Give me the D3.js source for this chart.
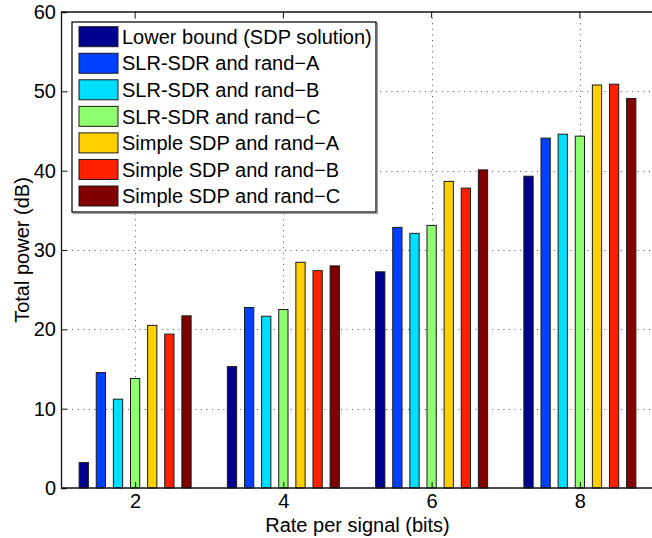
<!DOCTYPE html>
<html>
<head>
<meta charset="utf-8">
<script src="https://cdn.jsdelivr.net/npm/d3@7"></script>
<style>
  html, body { margin: 0; padding: 0; background: #fff; }
  svg { display: block; font-family: "Liberation Sans", Arial, Helvetica, sans-serif; }
</style>
</head>
<body>
<svg id="chart" width="652" height="538"></svg>
<script>
// Rates on the x axis
const rates = [2, 4, 6, 8];
const xTicks = [2, 4, 6, 8];
const yTicks = [0, 10, 20, 30, 40, 50, 60];

// Series names (legend order)
const seriesNames = [
  "Lower bound (SDP solution)",
  "SLR-SDR and rand\u2212A",
  "SLR-SDR and rand\u2212B",
  "SLR-SDR and rand\u2212C",
  "Simple SDP and rand\u2212A",
  "Simple SDP and rand\u2212B",
  "Simple SDP and rand\u2212C"
];

// Total power (dB) per rate, one array per series
const lowerBound = [3.2, 15.3, 27.25, 39.3];
const slrA       = [14.55, 22.75, 32.85, 44.1];
const slrB       = [11.2, 21.65, 32.1, 44.6];
const slrC       = [13.8, 22.5, 33.1, 44.35];
const simpleA    = [20.5, 28.45, 38.65, 50.8];
const simpleB    = [19.4, 27.4, 37.8, 50.9];
const simpleC    = [21.7, 28.0, 40.1, 49.1];

const seriesColors = ["#00008f", "#0040ff", "#00dfff", "#8fff70", "#ffcf00", "#ff2000", "#800000"];

const series = [lowerBound, slrA, slrB, slrC, simpleA, simpleB, simpleC].map((vals, i) => ({
  name: seriesNames[i], color: seriesColors[i], values: vals
}));

const svg = d3.select("#chart");
const plotL = 61, plotR = 654, plotT = 12, plotB = 488;

const x = d3.scaleLinear().domain([1, 9]).range([plotL, plotR]);
const y = d3.scaleLinear().domain([0, 60]).range([plotB, plotT]);

// Dotted grid
const grid = svg.append("g").attr("stroke", "#555").attr("stroke-width", 1)
  .attr("stroke-dasharray", "1,4.6");
grid.selectAll("line.gy").data(yTicks.slice(1, -1)).join("line")
  .attr("x1", plotL).attr("x2", plotR)
  .attr("y1", d => Math.round(y(d)) + 0.5).attr("y2", d => Math.round(y(d)) + 0.5);
grid.selectAll("line.gx").data(xTicks).join("line")
  .attr("y1", plotT).attr("y2", plotB)
  .attr("x1", d => Math.round(x(d)) + 0.5).attr("x2", d => Math.round(x(d)) + 0.5);

// Grouped bars
const slot = 0.231;      // spacing between bars in a group (x units)
const barW = 0.125;      // bar width (x units)
const bw = x(barW) - x(0);
series.forEach((s, i) => {
  const off = (i - (series.length - 1) / 2) * slot;
  svg.append("g").selectAll("rect").data(s.values).join("rect")
    .attr("x", (d, j) => x(rates[j] + off) - bw / 2)
    .attr("y", d => y(d))
    .attr("width", bw)
    .attr("height", d => y(0) - y(d))
    .attr("fill", s.color)
    .attr("stroke", "#1a1a1a")
    .attr("stroke-width", 1);
});

// Axes box and ticks
const axisColor = "#111";
svg.append("line").attr("x1", plotL).attr("x2", plotR).attr("y1", plotT).attr("y2", plotT)
  .attr("stroke", axisColor).attr("stroke-width", 1.3);
svg.append("line").attr("x1", plotL).attr("x2", plotR).attr("y1", plotB).attr("y2", plotB)
  .attr("stroke", axisColor).attr("stroke-width", 1.3);

const yAxis = d3.axisLeft(y).tickValues(yTicks).tickSize(-6).tickPadding(5).tickFormat(d3.format("d"));
const gy = svg.append("g").attr("transform", `translate(${plotL},0)`).call(yAxis);
gy.select(".domain").attr("stroke", axisColor).attr("stroke-width", 1.3);
gy.selectAll(".tick line").attr("stroke", axisColor);
gy.selectAll("text").attr("font-size", 20).attr("fill", "#000")
  .attr("font-family", "Liberation Sans, Arial, sans-serif");

const xAxis = d3.axisBottom(x).tickValues(xTicks).tickSize(-6).tickPadding(6).tickFormat(d3.format("d"));
const gx = svg.append("g").attr("transform", `translate(0,${plotB})`).call(xAxis);
gx.select(".domain").remove();
gx.selectAll(".tick line").attr("stroke", axisColor);
gx.selectAll("text").attr("font-size", 20).attr("fill", "#000")
  .attr("font-family", "Liberation Sans, Arial, sans-serif");

// top ticks
svg.append("g").selectAll("line").data(xTicks).join("line")
  .attr("x1", d => x(d)).attr("x2", d => x(d)).attr("y1", plotT).attr("y2", plotT + 6)
  .attr("stroke", axisColor);

// Axis titles
svg.append("text").attr("x", (plotL + plotR) / 2).attr("y", 531.5)
  .attr("text-anchor", "middle").attr("font-size", 20).text("Rate per signal (bits)");
svg.append("text").attr("transform", `translate(22,${(plotT + plotB) / 2}) rotate(-90)`)
  .attr("text-anchor", "middle").attr("dy", "0.35em").attr("font-size", 20).text("Total power (dB)");

// Legend
const lg = svg.append("g");
const lgX = 72, lgY = 22, lgW = 304, lgH = 190;
lg.append("rect").attr("x", lgX + 1.5).attr("y", lgY + 1.5).attr("width", lgW).attr("height", lgH)
  .attr("fill", "none").attr("stroke", "#999").attr("stroke-width", 1);
lg.append("rect").attr("x", lgX).attr("y", lgY).attr("width", lgW).attr("height", lgH)
  .attr("fill", "#fff").attr("stroke", axisColor).attr("stroke-width", 1.3);
const rowH = 26.55;
const rows = lg.selectAll("g.row").data(series).join("g")
  .attr("transform", (d, i) => `translate(0,${lgY + 4.7 + i * rowH})`);
rows.append("rect").attr("x", 79).attr("y", 0).attr("width", 39).attr("height", 20)
  .attr("fill", d => d.color).attr("stroke", "#1a1a1a").attr("stroke-width", 1);
rows.append("text").attr("x", 122).attr("y", 10).attr("dy", "0.36em")
  .attr("font-size", 20).text(d => d.name);
</script>
</body>
</html>
